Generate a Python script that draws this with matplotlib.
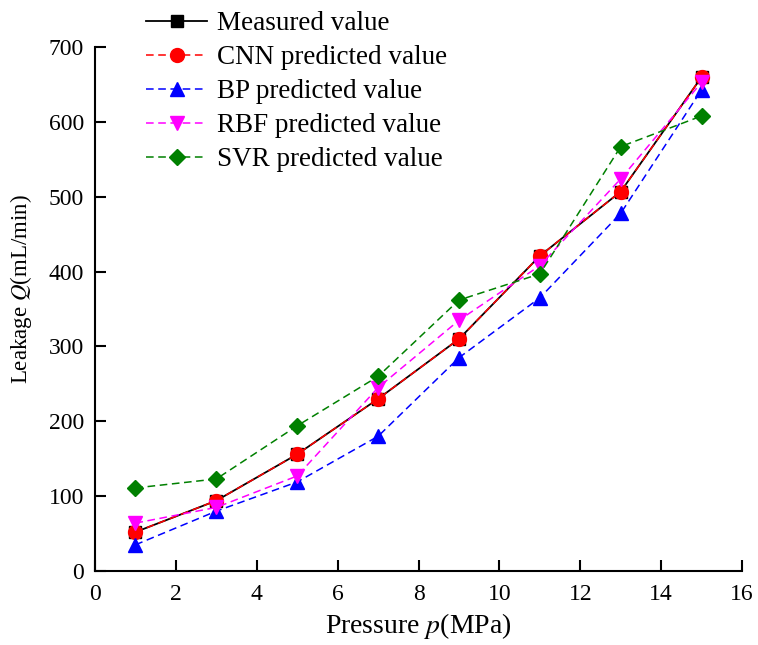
import matplotlib
matplotlib.use("Agg")
import matplotlib.pyplot as plt

plt.rcParams['font.family'] = ['Liberation Serif', 'DejaVu Serif']
plt.rcParams['mathtext.fontset'] = 'stix'

pressure = [1, 3, 5, 7, 9, 11, 13, 15]
measured = [52, 94, 156, 230, 310, 421, 507, 660]
cnn = [52, 94, 156, 230, 310, 421, 507, 660]
bp = [35, 80, 119, 180, 285, 365, 478, 643]
rbf = [64, 85, 127, 245, 335, 408, 524, 653]
svr = [111, 123, 194, 260, 362, 397, 567, 608]

labels = ["Measured value", "CNN predicted value", "BP predicted value",
          "RBF predicted value", "SVR predicted value"]

fig = plt.figure(figsize=(7.58, 6.45), dpi=100)
ax = fig.add_axes([0.1253, 0.1147, 0.979 - 0.1253, 0.927 - 0.1147])

ax.plot(pressure, measured, color='black', lw=1.3, marker='s', ms=8, label=labels[0])
ax.plot(pressure, cnn, color='red', lw=1.1, ls=(0, (5, 3)), marker='o', ms=10, label=labels[1])
ax.plot(pressure, bp, color='blue', lw=1.1, ls=(0, (5, 3)), marker='^', ms=10, label=labels[2])
ax.plot(pressure, rbf, color='magenta', lw=1.1, ls=(0, (5, 3)), marker='v', ms=10, label=labels[3])
ax.plot(pressure, svr, color='green', lw=1.1, ls=(0, (5, 3)), marker='D', ms=8, label=labels[4])

ax.set_xlim(0, 16)
ax.set_ylim(0, 700)
ax.set_xticks(range(0, 17, 2))
ax.set_yticks(range(0, 701, 100))
ax.spines['top'].set_visible(False)
ax.spines['right'].set_visible(False)
for s in ['left', 'bottom']:
    ax.spines[s].set_linewidth(1.5)
ax.tick_params(direction='in', length=8, width=1.5, labelsize=17)
ax.tick_params(axis='x', pad=9)
ax.tick_params(axis='y', pad=8)

ax.set_xlabel("Pressure $p$(MPa)", fontsize=20, labelpad=5)
ax.set_ylabel("Leakage $Q$(mL/min)", fontsize=16.5, labelpad=9)
ax.yaxis.set_label_coords(-0.095, 0.538)

leg = fig.legend(loc='upper left', bbox_to_anchor=(0.1606, 1.02), frameon=False,
                 fontsize=19.5, handlelength=2.25, labelspacing=0.33, handletextpad=0.35)

fig.savefig("out.png", dpi=100)
